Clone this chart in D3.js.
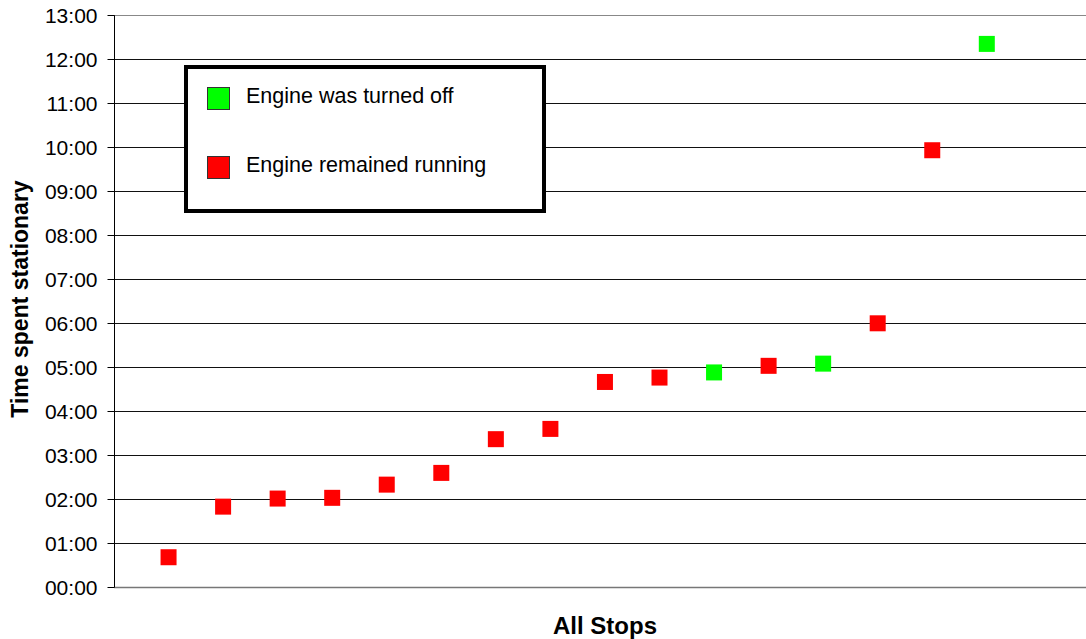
<!DOCTYPE html>
<html>
<head>
<meta charset="utf-8">
<script src="https://cdn.jsdelivr.net/npm/d3@7"></script>
<style>
  html, body { margin: 0; padding: 0; background: #fff; }
  svg { display: block; }
  text { font-family: "Liberation Sans", Arial, sans-serif; fill: #000; }
</style>
</head>
<body>
<svg id="chart" width="1086" height="639"></svg>
<script>
// Stops, sorted by time spent stationary (minutes)
const stops = d3.range(1, 17);
const minutes = [41, 110, 121, 122, 140, 156, 202, 216, 280, 286, 293, 302, 305, 360, 596, 741];
const engineOff = [false, false, false, false, false, false, false, false, false, false, true, false, true, false, false, true];
const yTickHours = d3.range(0, 14);
const seriesNames = ["Engine was turned off", "Engine remained running"];
const seriesColors = ["#00ff00", "#ff0000"];

const svg = d3.select("#chart");
const W = 1086, H = 639;
const plotLeft = 114, plotTop = 15.3, plotBottom = 587.3;

const x = d3.scaleLinear().domain([0, 18]).range([plotLeft, plotLeft + 18 * 54.55]);
const y = d3.scaleLinear().domain([0, 13 * 60]).range([plotBottom, plotTop]);

const fmt = m => d3.format("02")(Math.floor(m / 60)) + ":" + d3.format("02")(m % 60);

// gridlines
svg.append("g")
  .selectAll("line")
  .data(yTickHours)
  .join("line")
  .attr("x1", plotLeft).attr("x2", W)
  .attr("y1", h => Math.round(y(h * 60)) + 0.5)
  .attr("y2", h => Math.round(y(h * 60)) + 0.5)
  .attr("stroke", h => (h === 0 ? "#777" : (h === 13 ? "#888" : "#111")))
  .attr("stroke-width", h => (h === 0 ? 1.5 : 1));

// y axis
const yAxis = d3.axisLeft(y)
  .tickValues(yTickHours.map(h => h * 60))
  .tickFormat(fmt)
  .tickSize(7)
  .tickPadding(10);
const ya = svg.append("g")
  .attr("transform", `translate(${plotLeft + 0.5},0)`)
  .call(yAxis);
ya.select(".domain").attr("stroke", "#000").attr("d", `M0,${plotTop}V${plotBottom}`);
ya.selectAll(".tick line").attr("stroke", "#000");
ya.selectAll(".tick text")
  .style("font-family", "'Liberation Sans', Arial, sans-serif")
  .style("font-size", "21px")
  .attr("fill", "#000")
  .attr("dy", "0.36em");
ya.selectAll(".tick").attr("transform", d => `translate(0,${Math.round(y(d)) + 0.5})`);

// axis titles
svg.append("text")
  .attr("x", 605).attr("y", 634)
  .attr("text-anchor", "middle")
  .style("font-size", "24px").style("font-weight", "bold")
  .text("All Stops");

svg.append("text")
  .attr("transform", "translate(28,299) rotate(-90)")
  .attr("text-anchor", "middle")
  .style("font-size", "23px").style("font-weight", "bold")
  .text("Time spent stationary");

// points
const pts = stops.map((s, i) => ({ s, m: minutes[i], off: engineOff[i] }));
const ms = 16;
svg.append("g")
  .selectAll("rect")
  .data(pts)
  .join("rect")
  .attr("x", d => x(d.s) - ms / 2)
  .attr("y", d => y(d.m) - ms / 2)
  .attr("width", ms).attr("height", ms)
  .attr("fill", d => (d.off ? seriesColors[0] : seriesColors[1]));

// legend
const lg = svg.append("g");
lg.append("rect")
  .attr("x", 186).attr("y", 67).attr("width", 358).attr("height", 144)
  .attr("fill", "#fff").attr("stroke", "#000").attr("stroke-width", 4);
seriesNames.forEach((name, i) => {
  const cy = 98 + i * 69;
  lg.append("rect")
    .attr("x", 207.5).attr("y", cy - 10.5).attr("width", 22).attr("height", 22)
    .attr("fill", seriesColors[i]).attr("stroke", "#333").attr("stroke-width", 1);
  lg.append("text")
    .attr("x", 246).attr("y", cy + 4.5)
    .style("font-size", "21.5px")
    .text(name);
});
</script>
</body>
</html>
